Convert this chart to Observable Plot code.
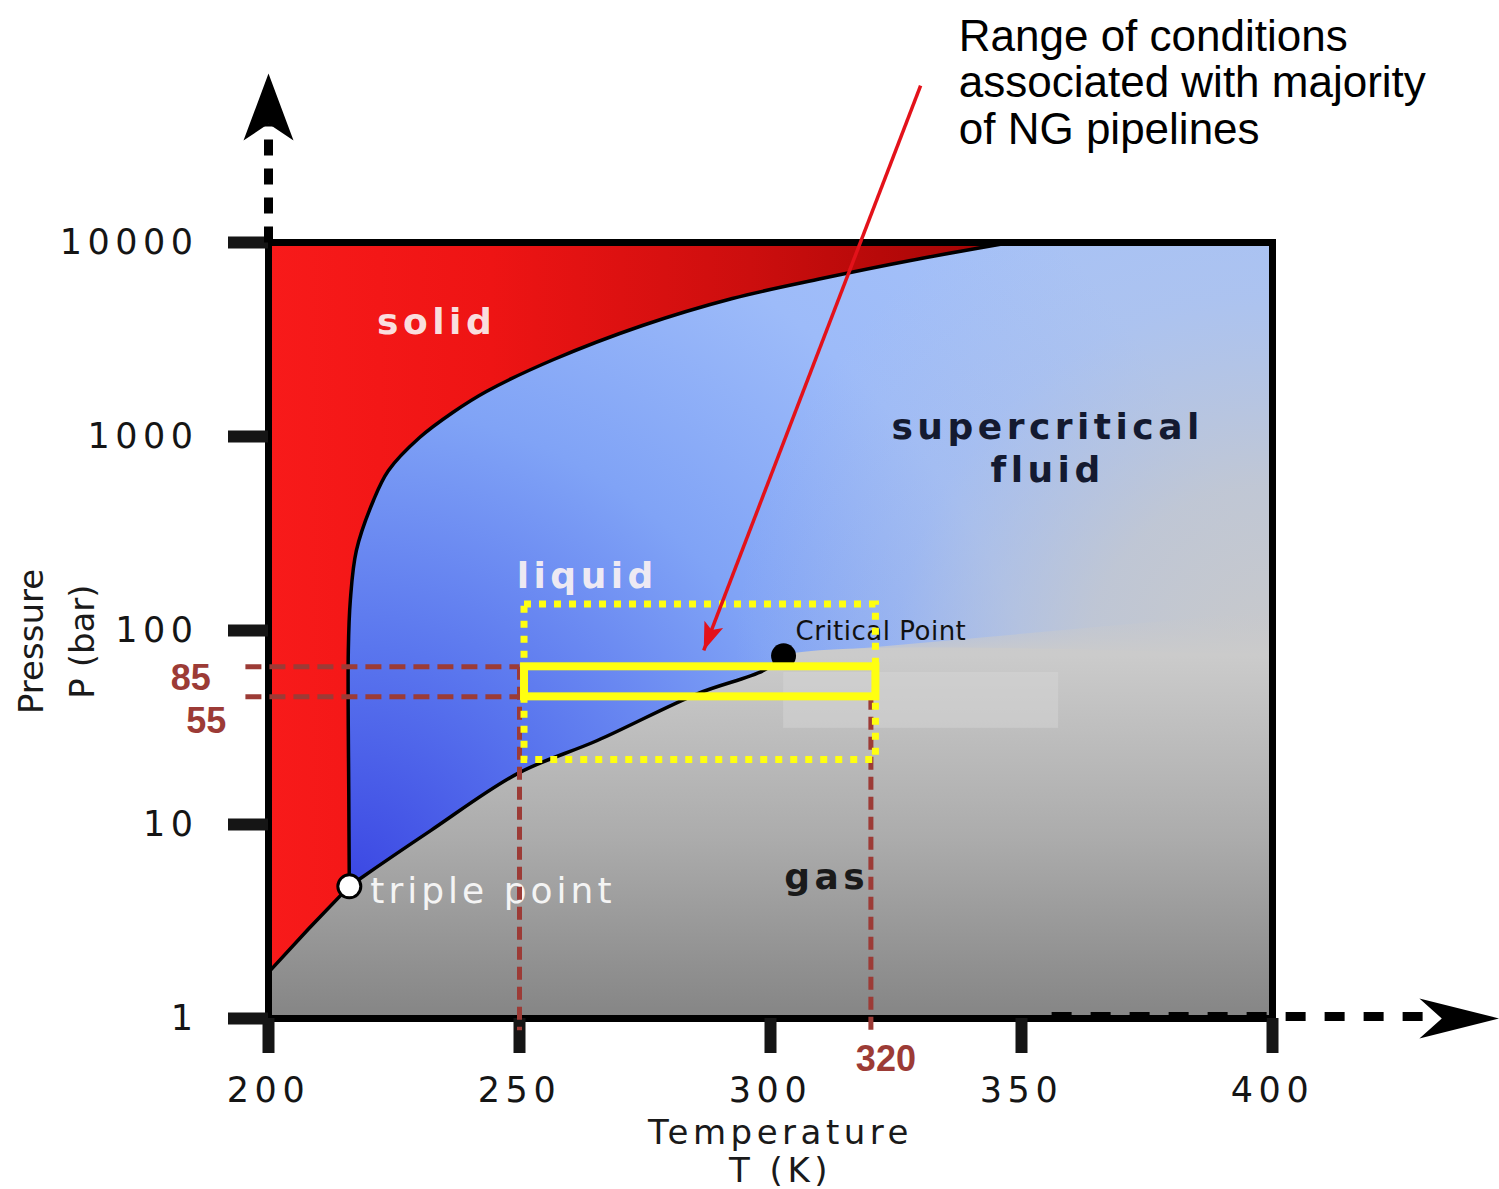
<!DOCTYPE html>
<html><head><meta charset="utf-8">
<script src="https://cdn.jsdelivr.net/npm/d3@7"></script>
<script src="https://cdn.jsdelivr.net/npm/@observablehq/plot@0.6"></script>
<style>
html,body{margin:0;padding:0;background:#fff;}
#chart svg{display:block;}
</style>
</head><body><div id="chart"></div>
<script>
// ---------------- data ----------------
const xTicks = [200, 250, 300, 350, 400];
const yTicks = [1, 10, 100, 1000, 10000];

// sublimation line (T in K, P in bar), up to the triple point
const sublT = [200, 208, 216.1];
const sublP = [1.73, 2.9, 4.8];
// melting line, from the triple point to the top of the chart
const meltT = [216.1, 216.0, 215.9, 216.3, 217.5, 220.9, 223.9, 230.1, 236.7, 243.4, 256.8, 274.5, 292.4, 310.2, 327.9, 347.8];
const meltP = [4.8, 13.3, 78.9, 143, 258, 468, 668, 988, 1330, 1706, 2494, 3733, 5144, 6520, 8077, 10000];

// liquid–gas (vapour pressure) line, triple point -> critical point
const vaporT = [216.1, 218.3, 232.3, 249.6, 265.5, 285.5, 298.6, 302.6];
const vaporP = [4.8, 5.27, 9.3, 18.3, 27.1, 47.3, 62.2, 74];

const triplePoint = {T: 216.1, P: 4.8};
const criticalPoint = {T: 302.6, P: 74};

// pipeline range (as drawn) and its labels
const pipeT = [250, 320];
const pipeRectT = [251, 321];
const pipeP = [45.5, 65];
const pipePLabels = ["55", "85"];
const pipeTLabel = "320";
// wider dotted range
const wideT = [251, 321];
const wideP = [21.5, 136];
// light patch in the gas region
const patchT = [302.6, 357.4];
const patchP = [31.3, 60.8];
// soft gas/supercritical transition beyond the critical point
const fadeT = [302.6, 400];
const fadeP = [74, 125];

// ---------------- annotations (data coordinates) ----------------
const regionBold = [
  {label: "solid", T: 233.5, P: 3873},
  {label: "liquid", T: 263.5, P: 190}
];
const regionDark = [
  {label: "supercritical\nfluid", T: 355.2, P: 883},
  {label: "gas", T: 311.2, P: 5.33}
];
const noteText = "Range of conditions\nassociated with majority\nof NG pipelines";
const noteAnchor = {T: 337.5, P: 144500};
const redArrow = {T1: 329.9, P1: 64400, T2: 286.7, P2: 78.9};
const yArrow = {T: 200, P0: 10000, P1: 41000, tip: 74300};
const xArrow = {P: 1, T0: 356, T1: 433.7, tip: 445.2};

const sublLine = sublT.map((T, i) => ({T, P: sublP[i]}));
const sublFill = sublLine.concat([{T: meltT[0], P: meltP[1]}]); // overlaps the melt fill, no seam
const meltLine = meltT.map((T, i) => ({T, P: meltP[i]}));
const vaporLine = vaporT.map((T, i) => ({T, P: vaporP[i]}));
const gasBoundary = sublLine.slice(0, -1).concat(vaporLine).concat([{T: 400, P: criticalPoint.P}]);
const fadeBand = fadeT.map((T, i) => ({T, P: fadeP[i]}));

// dart-shaped arrowhead symbol, tip at origin, rotated clockwise by angle (deg)
function dart(angle, len, half, notch) {
  const a = angle * Math.PI / 180, c = Math.cos(a), s = Math.sin(a);
  const pts = [[0, 0], [half, len], [0, len * notch], [-half, len]];
  return {draw(ctx, size) {
    const k = Math.sqrt(size / Math.PI) / 10;
    pts.forEach(([x, y], i) => {
      const X = (x * c - y * s) * k, Y = (x * s + y * c) * k;
      if (i) ctx.lineTo(X, Y); else ctx.moveTo(X, Y);
    });
    ctx.closePath();
  }};
}

const RED = "#e3121a", BROWN = "#9c3b36", YEL = "#ffff10";

function build(arrowAngle) {
  return Plot.plot({
    width: 1499, height: 1189,
    marginTop: 242, marginRight: 227, marginBottom: 171, marginLeft: 268,
    style: {fontFamily: "DejaVu Sans", fontSize: "35px", background: "white", overflow: "visible"},
    x: {domain: [200, 400]},
    y: {type: "log", domain: [1, 10000]},
    marks: [
      Plot.frame({fill: "url(#blueGrad)"}),
      Plot.frame({fill: "url(#grayGlow)"}),
      Plot.areaY(gasBoundary, {x: "T", y1: 1, y2: "P", fill: "url(#gasGrad)", curve: "catmull-rom"}),
      Plot.areaY(fadeBand, {x: "T", y1: criticalPoint.P, y2: "P", fill: "url(#gasFade)"}),
      Plot.areaX(sublFill, {y: "P", x1: 200, x2: "T", fill: "url(#redGrad)"}),
      Plot.areaX(meltLine, {y: "P", x1: 200, x2: "T", fill: "url(#redGrad)", curve: "catmull-rom"}),
      Plot.rect([0], {x1: patchT[0], x2: patchT[1], y1: patchP[0], y2: patchP[1], fill: "#d6d6d6", fillOpacity: 0.5}),
      Plot.line(sublLine, {x: "T", y: "P", stroke: "black", strokeWidth: 3.5}),
      Plot.line(meltLine, {x: "T", y: "P", stroke: "black", strokeWidth: 3.5, curve: "catmull-rom"}),
      Plot.line(vaporLine, {x: "T", y: "P", stroke: "black", strokeWidth: 3.5, curve: "catmull-rom"}),
      Plot.dot([triplePoint], {x: "T", y: "P", r: 11.5, fill: "white", stroke: "black", strokeWidth: 3}),
      Plot.dot([criticalPoint], {x: "T", y: "P", r: 12.5, fill: "black"}),
      Plot.frame({stroke: "black", strokeWidth: 7}),
      Plot.axisX({ticks: xTicks, tickFormat: d => String(d), tickSize: 35, tickPadding: 24, strokeWidth: 12, fontSize: 35, color: "#151515", label: null}),
      Plot.axisY({ticks: yTicks, tickFormat: d => String(d), tickSize: 40, tickPadding: 30, strokeWidth: 12, fontSize: 35, color: "#151515", label: null}),
      // region labels
      Plot.text(regionBold, {x: "T", y: "P", text: "label", fill: "#fbf3f3", fillOpacity: 0.93, fontWeight: "bold", fontSize: 36}),
      Plot.text(regionDark.slice(0, 1), {x: "T", y: "P", text: "label", fill: "#141a30", fontWeight: "bold", fontSize: 36, lineHeight: 1.2}),
      Plot.text(regionDark.slice(1), {x: "T", y: "P", text: "label", fill: "#1a1a1a", fontWeight: "bold", fontSize: 36}),
      Plot.text([triplePoint], {x: "T", y: "P", text: () => "triple point", textAnchor: "start", dx: 21, dy: 5, fill: "#f4f4f4", fontSize: 36}),
      Plot.text([criticalPoint], {x: "T", y: "P", text: () => "Critical Point", textAnchor: "start", dx: 12, dy: -24, fill: "#111", fontSize: 26}),
      // brown dashed guide lines
      Plot.link(pipeP, {x1: 195.4, x2: pipeT[0], y1: d => d, y2: d => d, stroke: BROWN, strokeWidth: 5, strokeDasharray: "16,8"}),
      Plot.link([pipeT[0]], {x1: d => d, x2: d => d, y1: pipeP[1], y2: 0.87, stroke: BROWN, strokeWidth: 5, strokeDasharray: "13,7"}),
      Plot.link([pipeT[1]], {x1: d => d, x2: d => d, y1: pipeP[0], y2: 0.87, stroke: BROWN, strokeWidth: 5, strokeDasharray: "13,7"}),
      // yellow ranges
      Plot.rect([0], {x1: wideT[0], x2: wideT[1], y1: wideP[0], y2: wideP[1], fill: "none", stroke: YEL, strokeWidth: 7, strokeDasharray: "7,8"}),
      Plot.rect([0], {x1: pipeRectT[0], x2: pipeRectT[1], y1: pipeP[0], y2: pipeP[1], fill: "none", stroke: YEL, strokeWidth: 8}),
      // brown value labels
      Plot.text([pipePLabels[1]], {x: 184.5, y: pipeP[1], text: d => d, lineAnchor: "top", dy: -2, fill: BROWN, fontFamily: "Liberation Sans", fontWeight: "bold", fontSize: 36}),
      Plot.text([pipePLabels[0]], {x: 187.6, y: pipeP[0], text: d => d, lineAnchor: "top", dy: 11, fill: BROWN, fontFamily: "Liberation Sans", fontWeight: "bold", fontSize: 36}),
      Plot.text([pipeTLabel], {x: pipeT[1], y: 1, text: d => d, lineAnchor: "top", dx: 15, dy: 27, fill: BROWN, fontFamily: "Liberation Sans", fontWeight: "bold", fontSize: 36}),
      // axis titles
      Plot.text(["Temperature\nT (K)"], {frameAnchor: "bottom", text: d => d, textAnchor: "middle", dx: 10, dy: 98, lineAnchor: "top", lineHeight: 1.12, fontSize: 34, fill: "#1a1a1a"}),
      Plot.text(["Pressure\nP (bar)"], {frameAnchor: "left", text: d => d, textAnchor: "middle", lineAnchor: "middle", dx: -216, dy: 11, rotate: -90, lineHeight: 1.5, fontSize: 34, fill: "#1a1a1a"}),
      // note + red arrow
      Plot.text([noteAnchor], {x: "T", y: "P", text: () => noteText, textAnchor: "start", lineAnchor: "top", lineHeight: 1.06, fontFamily: "Liberation Sans", fontSize: 44, fill: "#000"}),
      Plot.link([redArrow], {x1: "T1", y1: "P1", x2: "T2", y2: "P2", stroke: RED, strokeWidth: 3.5}),
      Plot.dot([redArrow], {x: "T2", y: "P2", r: 10, symbol: dart(arrowAngle, 28, 10, 0.78), fill: RED}),
      // axis arrows
      Plot.link([yArrow], {x1: "T", x2: "T", y1: "P0", y2: "P1", stroke: "black", strokeWidth: 9, strokeDasharray: "16,13"}),
      Plot.dot([yArrow], {x: "T", y: "tip", r: 10, symbol: dart(0, 67, 25, 0.75), fill: "black"}),
      Plot.link([xArrow], {x1: "T0", x2: "T1", y1: "P", y2: "P", dy: -2, stroke: "black", strokeWidth: 9, strokeDasharray: "20,19"}),
      Plot.dot([xArrow], {x: "tip", y: "P", r: 10, symbol: dart(90, 80, 20, 0.72), fill: "black"})
    ]
  });
}

const probe = build(0);
const sx0 = probe.scale("x"), sy0 = probe.scale("y");
const ddx = sx0.apply(redArrow.T2) - sx0.apply(redArrow.T1);
const ddy = sy0.apply(redArrow.P2) - sy0.apply(redArrow.P1);
const angle = Math.atan2(ddx, -ddy) * 180 / Math.PI;

const chart = build(angle);
const sx = chart.scale("x"), sy = chart.scale("y");
const svg = d3.select(chart);
const defs = svg.insert("defs", ":first-child");

function stops(g, list) {
  list.forEach(([o, c, op]) => g.append("stop").attr("offset", o).attr("stop-color", c).attr("stop-opacity", op == null ? 1 : op));
}
// blue (liquid / supercritical) radial shading from the triple point
const bg = defs.append("radialGradient").attr("id", "blueGrad").attr("gradientUnits", "userSpaceOnUse")
  .attr("cx", sx.apply(triplePoint.T)).attr("cy", sy.apply(triplePoint.P)).attr("r", 960);
stops(bg, [[0, "#3b47e3"], [0.25, "#5a76ee"], [0.5, "#80a3f6"], [0.75, "#9dbbf9"], [1, "#a7c2f7"]]);
// grey glow toward the right, around the critical pressure
const gg = defs.append("radialGradient").attr("id", "grayGlow").attr("gradientUnits", "userSpaceOnUse")
  .attr("cx", sx.apply(400)).attr("cy", sy.apply(60)).attr("r", 540);
stops(gg, [[0, "#c9c9c9", 1], [0.35, "#c6c8cc", 0.8], [0.7, "#c0c6d2", 0.2], [1, "#c0c6d2", 0]]);
// gas grey vertical gradient
const gs = defs.append("linearGradient").attr("id", "gasGrad").attr("gradientUnits", "userSpaceOnUse")
  .attr("x1", 0).attr("x2", 0).attr("y1", sy.apply(criticalPoint.P)).attr("y2", sy.apply(1));
stops(gs, [[0, "#cbcbcb"], [0.5, "#acacac"], [1, "#858585"]]);
// fade of the gas grey above the critical pressure
const gf = defs.append("linearGradient").attr("id", "gasFade").attr("gradientUnits", "userSpaceOnUse")
  .attr("x1", 0).attr("x2", 0).attr("y1", sy.apply(criticalPoint.P)).attr("y2", sy.apply(fadeP[1]));
stops(gf, [[0, "#cbcbcb", 1], [1, "#c8c9cc", 0]]);
// red solid gradient
const rg = defs.append("linearGradient").attr("id", "redGrad").attr("gradientUnits", "userSpaceOnUse")
  .attr("x1", sx.apply(200)).attr("x2", sx.apply(348)).attr("y1", 0).attr("y2", 0);
stops(rg, [[0, "#f81a1a"], [0.3, "#ee1414"], [0.65, "#cc0e0e"], [1, "#a20404"]]);

// letter spacing like the original artwork
const tickSet = new Set([...xTicks, ...yTicks].map(String));
svg.selectAll("text").each(function () {
  const t = this.textContent;
  let ls = null;
  if (tickSet.has(t)) ls = 5.5;
  else if (["solid", "liquid", "gas", "supercriticalfluid"].includes(t)) ls = 4.5;
  else if (t === "triple point") ls = 4;
  else if (t === "TemperatureT (K)") ls = 4.5;
  else if (t === "Critical Point") ls = 0.5;
  if (ls != null) this.style.letterSpacing = ls + "px";
});

document.getElementById("chart").appendChild(chart);
</script>
</body></html>
